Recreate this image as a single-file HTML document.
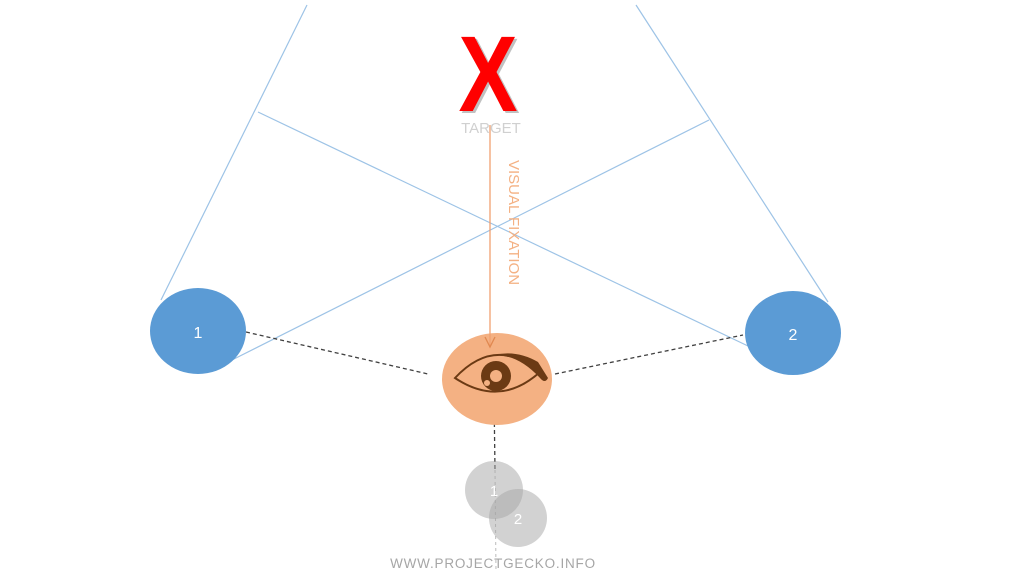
<!DOCTYPE html>
<html><head><style>
html,body{margin:0;padding:0;background:#fff;width:1024px;height:576px;overflow:hidden}
</style></head><body>
<svg width="1024" height="576" viewBox="0 0 1024 576" xmlns="http://www.w3.org/2000/svg" font-family="Liberation Sans, sans-serif">
<rect width="1024" height="576" fill="#fff"/>
<g stroke="#9dc3e6" stroke-width="1.2" fill="none">
<line x1="307" y1="5" x2="161" y2="300"/>
<line x1="636" y1="5" x2="828" y2="302"/>
<line x1="258" y1="112" x2="748" y2="346"/>
<line x1="709" y1="120" x2="232" y2="360"/>
</g>
<g stroke="#404040" stroke-width="1.3" stroke-dasharray="4,3" fill="none">
<line x1="246" y1="332" x2="428" y2="374"/>
<line x1="555" y1="374" x2="743" y2="335"/>
<line x1="494" y1="395" x2="495" y2="470"/>
</g>
<line x1="495" y1="470" x2="496" y2="572" stroke="#bbb" stroke-width="1" stroke-dasharray="3,3"/>
<ellipse cx="198" cy="331" rx="48" ry="43" fill="#5b9bd5"/>
<text x="198" y="338" fill="#fff" font-size="16" text-anchor="middle">1</text>
<ellipse cx="793" cy="333" rx="48" ry="42" fill="#5b9bd5"/>
<text x="793" y="340" fill="#fff" font-size="16" text-anchor="middle">2</text>
<ellipse cx="497" cy="379" rx="55" ry="46" fill="#f4b183"/>
<path d="M455 378 Q495 335 540 372 Q500 408 455 378 Z" fill="none" stroke="#6b3a14" stroke-width="2"/>
<path d="M458 374 Q500 340 538 362 L548 378 Q545 384 540 378 Q500 335 458 374 Z" fill="#6b3a14"/>
<circle cx="496" cy="376" r="15" fill="#6b3a14"/>
<circle cx="496" cy="376" r="6" fill="#f4b183"/>
<circle cx="487" cy="383" r="3" fill="#f4b183"/>
<line x1="490" y1="125" x2="490" y2="346" stroke="#f0a070" stroke-width="1.3"/>
<path d="M485 337 L490 347 L495 337" fill="none" stroke="#e08850" stroke-width="1.3"/>
<text transform="translate(509,160) rotate(90)" fill="#f4b183" font-size="15">VISUAL FIXATION</text>
<g transform="translate(488,0) scale(0.82,1)">
<text x="3" y="113" fill="#999" font-size="108" font-weight="bold" text-anchor="middle" opacity="0.6">X</text>
<text x="0" y="111" fill="#ff0000" font-size="108" font-weight="bold" text-anchor="middle">X</text>
</g>
<text x="491" y="133" fill="#d0d0d0" font-size="15" text-anchor="middle">TARGET</text>
<circle cx="494" cy="490" r="29" fill="#a6a6a6" opacity="0.5"/>
<circle cx="518" cy="518" r="29" fill="#a6a6a6" opacity="0.5"/>
<text x="494" y="496" fill="#fff" font-size="15" text-anchor="middle">1</text>
<text x="518" y="524" fill="#fff" font-size="15" text-anchor="middle">2</text>
<text x="493" y="568" fill="#a6a6a6" font-size="13.5" text-anchor="middle" letter-spacing="0.8">WWW.PROJECTGECKO.INFO</text>
</svg>
</body></html>
